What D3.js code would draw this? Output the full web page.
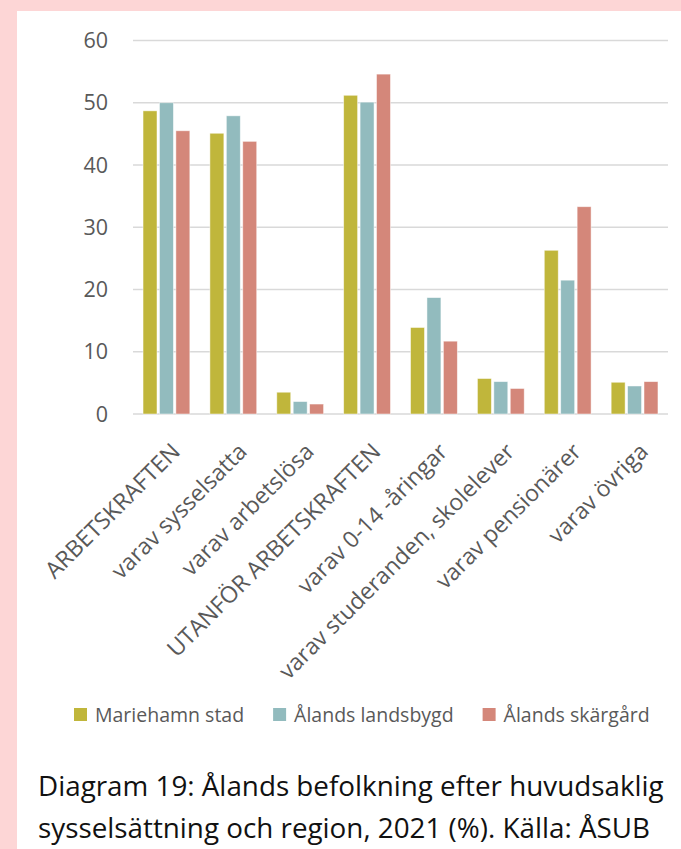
<!DOCTYPE html>
<html>
<head>
<meta charset="utf-8">
<script src="https://cdn.jsdelivr.net/npm/d3@7"></script>
<style>
  body { margin: 0; background: #fdd6d6; }
  svg { display: block; }
  text { font-family: "Open Sans", "Noto Sans", sans-serif; }
</style>
</head>
<body>
<svg width="681" height="849"></svg>
<script>
// kategorier på x-axeln
var categories = ["ARBETSKRAFTEN", "varav sysselsatta", "varav arbetslösa", "UTANFÖR ARBETSKRAFTEN",
                  "varav 0-14 -åringar", "varav studeranden, skolelever", "varav pensionärer", "varav övriga"];
var seriesNames = ["Mariehamn stad", "Ålands landsbygd", "Ålands skärgård"];
var mariehamn = [48.7, 45.1, 3.5, 51.2, 13.9, 5.7, 26.3, 5.1];
var landsbygd = [50.0, 47.9, 2.0, 50.1, 18.7, 5.2, 21.5, 4.5];
var skargard  = [45.5, 43.8, 1.6, 54.6, 11.7, 4.1, 33.3, 5.2];
var yTicks = [0, 10, 20, 30, 40, 50, 60];
var colors = ["#c0b63b", "#92bbbe", "#d4877a"];

var svg = d3.select("svg");

// rosa ram + vit yta
svg.append("rect").attr("width", 681).attr("height", 849).attr("fill", "#fdd6d6");
svg.append("rect").attr("x", 17).attr("y", 11).attr("width", 664).attr("height", 838).attr("fill", "#fff");

var x0 = d3.scaleBand().domain(categories).range([133, 668]).paddingInner(0.3).paddingOuter(0.15),
    x1 = d3.scaleBand().domain(seriesNames).range([0, x0.bandwidth()]).paddingInner(0.15),
    y = d3.scaleLinear().domain([0, 60]).range([414, 40.5]);

var rows = categories.map(function(c, i) {
  return {cat: c, vals: [mariehamn[i], landsbygd[i], skargard[i]]};
});

// stödlinjer
svg.append("g").selectAll("line")
  .data(yTicks)
  .enter().append("line")
    .attr("x1", 133).attr("x2", 668)
    .attr("y1", function(d) { return y(d); })
    .attr("y2", function(d) { return y(d); })
    .attr("stroke", "#d9d9d9")
    .attr("stroke-width", 1.5);

// y-axelns värden
svg.append("g").selectAll("text")
  .data(yTicks)
  .enter().append("text")
    .attr("x", 108)
    .attr("y", function(d) { return y(d); })
    .attr("dy", "0.36em")
    .attr("text-anchor", "end")
    .attr("font-size", 21.5)
    .attr("fill", "#595959")
    .text(function(d) { return d; });

// staplar
var grp = svg.append("g").selectAll("g")
  .data(rows)
  .enter().append("g")
    .attr("transform", function(d) { return "translate(" + x0(d.cat) + ",0)"; });

grp.selectAll("rect")
  .data(function(d) { return d.vals.map(function(v, j) { return {s: seriesNames[j], v: v, j: j}; }); })
  .enter().append("rect")
    .attr("x", function(d) { return x1(d.s); })
    .attr("y", function(d) { return y(d.v); })
    .attr("width", x1.bandwidth())
    .attr("height", function(d) { return y(0) - y(d.v); })
    .attr("fill", function(d) { return colors[d.j]; })
    .attr("stroke", "#fff")
    .attr("stroke-opacity", 0.6)
    .attr("stroke-width", 0.8);

// x-axelns etiketter, roterade
svg.append("g").selectAll("text")
  .data(categories)
  .enter().append("text")
    .attr("transform", function(d) {
      return "translate(" + (x0(d) + x0.bandwidth() / 2 + 15) + ",453) rotate(-45)";
    })
    .attr("text-anchor", "end")
    .attr("font-size", 23)
    .attr("fill", "#595959")
    .text(function(d) { return d; });

// teckenförklaring
var lx = 74;
seriesNames.forEach(function(name, i) {
  svg.append("rect")
    .attr("x", lx).attr("y", 708)
    .attr("width", 13).attr("height", 13)
    .attr("fill", colors[i]);
  var t = svg.append("text")
    .attr("x", lx + 21).attr("y", 715)
    .attr("dy", "0.36em")
    .attr("font-size", 19.5)
    .attr("fill", "#595959")
    .text(name);
  lx = lx + 21 + t.node().getComputedTextLength() + 29;
});

// rubrik under diagrammet
var caption = ["Diagram 19: Ålands befolkning efter huvudsaklig",
               "sysselsättning och region, 2021 (%). Källa: ÅSUB"];
svg.append("g").selectAll("text")
  .data(caption)
  .enter().append("text")
    .attr("x", 38)
    .attr("y", function(d, i) { return 796 + i * 42; })
    .attr("font-size", 27.8)
    .attr("fill", "#111")
    .text(function(d) { return d; });
</script>
</body>
</html>
